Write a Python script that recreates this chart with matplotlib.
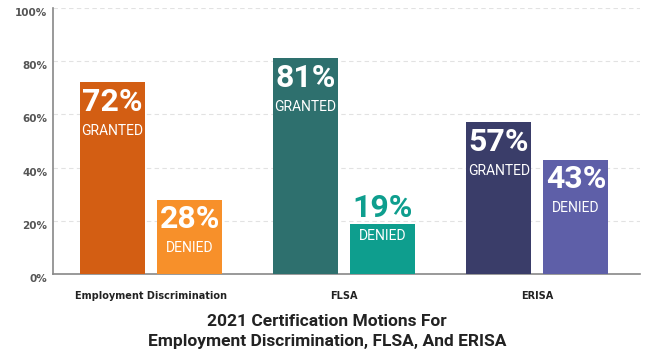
import matplotlib.pyplot as plt
import matplotlib.transforms as mtransforms
import numpy as np

categories = ["Employment Discrimination", "FLSA", "ERISA"]
granted = [72, 81, 57]
denied = [28, 19, 43]
granted_colors = ["#D35E13", "#2E706E", "#3A3D69"]
denied_colors = ["#F7902A", "#0E9E8E", "#5E5FA8"]
yticks = [0, 20, 40, 60, 80, 100]

lbl_font = ["Roboto", "DejaVu Sans"]

fig = plt.figure(figsize=(6.5, 3.56), dpi=100)
ax = fig.add_axes([0.0815, 0.230, 0.9035, 0.748])

x = np.arange(len(categories))
w = 0.337
off = 0.2
bars_g = ax.bar(x - off, granted, w, color=granted_colors, zorder=3)
bars_d = ax.bar(x + off, denied, w, color=denied_colors, zorder=3)


def label_bar(bar, value, word, color):
    cx = bar.get_x() + bar.get_width() / 2
    top = bar.get_height()
    if value < 25:
        # small bar: number sits above, word inside
        ax.annotate(f"{value}%", (cx, top), xytext=(0, 11.5), textcoords="offset points",
                    ha="center", va="center", fontsize=23, fontweight="bold",
                    color=color, family=lbl_font)
        ax.annotate(word, (cx, top), xytext=(0, -9), textcoords="offset points",
                    ha="center", va="center", fontsize=10, color="white", family=lbl_font)
    else:
        ax.annotate(f"{value}%", (cx, top), xytext=(0, -14), textcoords="offset points",
                    ha="center", va="center", fontsize=23, fontweight="bold",
                    color="white", family=lbl_font)
        ax.annotate(word, (cx, top), xytext=(0, -35), textcoords="offset points",
                    ha="center", va="center", fontsize=10, color="white", family=lbl_font)


for b, v in zip(bars_g, granted):
    label_bar(b, v, "GRANTED", "white")
for b, v, c in zip(bars_d, denied, denied_colors):
    label_bar(b, v, "DENIED", c)

ax.set_xlim(-0.508, 2.533)
ax.set_ylim(0, 100)
ax.set_yticks(yticks)
ax.set_yticklabels([f"{t}%" for t in yticks], fontsize=7.5, fontweight="bold", color="#555555")
shift = mtransforms.ScaledTranslation(0, -3 / 72, fig.dpi_scale_trans)
for lbl in ax.get_yticklabels():
    lbl.set_verticalalignment("top")
    lbl.set_transform(lbl.get_transform() + shift)
ax.tick_params(axis="y", length=0, pad=4)
ax.set_xticks(x)
ax.set_xticklabels(categories, fontsize=7, fontweight="bold", color="#222222")
ax.tick_params(axis="x", length=0, pad=12)
ax.yaxis.grid(True, linestyle=(0, (4, 3)), color="#e2e2e2", linewidth=0.8, zorder=0)

for s in ["top", "right"]:
    ax.spines[s].set_visible(False)
ax.spines["left"].set_color("#888888")
ax.spines["bottom"].set_color("#888888")
ax.spines["left"].set_linewidth(1.2)
ax.spines["bottom"].set_linewidth(1.2)

fig.text(0.503, 0.097, "2021 Certification Motions For", ha="center", va="center",
         fontsize=12.5, fontweight="bold", color="#222222", family=lbl_font)
fig.text(0.503, 0.040, "Employment Discrimination, FLSA, And ERISA", ha="center", va="center",
         fontsize=12.5, fontweight="bold", color="#222222", family=lbl_font)

fig.savefig("out.png", dpi=100)
